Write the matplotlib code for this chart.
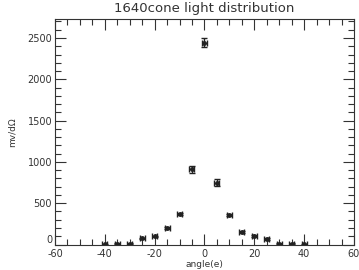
import matplotlib
matplotlib.use("Agg")
import matplotlib.pyplot as plt
from matplotlib.ticker import MultipleLocator, FuncFormatter

# angle (deg) vs signal
angles = [-40, -35, -30, -25, -20, -15, -10, -5, 0, 5, 10, 15, 20, 25, 30, 35, 40]
values = [4, 10, 12, 75, 97, 196, 370, 910, 2445, 748, 358, 148, 101, 66, 12, 8, 3]
errors = [6, 6, 6, 8, 10, 12, 15, 45, 50, 45, 15, 12, 10, 8, 6, 6, 6]
xerrs = [1] * len(angles)

plt.rcParams['axes.unicode_minus'] = False


def main():
    fig = plt.figure(figsize=(3.59, 2.70), dpi=100)
    ax = fig.add_axes([0.153, 0.0944, 0.833, 0.8352])

    ax.errorbar(angles, values, yerr=errors, xerr=xerrs, fmt='o', color='#222222',
                markersize=2.5, elinewidth=1.0, capsize=2.5, capthick=1.0)

    ax.set_xlim(-60, 60)
    ax.set_ylim(0, 2730)
    ax.xaxis.set_major_locator(MultipleLocator(20))
    ax.xaxis.set_minor_locator(MultipleLocator(5))
    ax.yaxis.set_major_locator(MultipleLocator(500))
    ax.yaxis.set_minor_locator(MultipleLocator(100))
    # the "0" on the y axis is drawn by hand, a bit higher, so it clears "-60"
    ax.yaxis.set_major_formatter(FuncFormatter(lambda v, p: "" if v == 0 else "%d" % v))
    ax.tick_params(which='both', direction='in', top=True, right=True,
                   labelsize=7, colors='#333333', pad=2)
    ax.tick_params(axis='x', pad=3)
    ax.tick_params(which='major', length=8, width=0.8)
    ax.tick_params(which='minor', length=4, width=0.8)
    for s in ax.spines.values():
        s.set_linewidth(0.8)
        s.set_color('#333333')

    ax.annotate("0", xy=(0, 0), xycoords=('axes fraction', 'data'),
                xytext=(-2, -0.5), textcoords='offset points',
                ha='right', va='bottom', fontsize=7, color='#333333')

    ax.set_title("1640cone light distribution", fontsize=9.5, color='#333333', pad=5)
    ax.set_xlabel("angle(e)", fontsize=6.5, color='#333333', labelpad=1)
    ax.set_ylabel("mv/d\u03a9", fontsize=6.5, color='#333333', labelpad=8)

    fig.savefig("out.png", dpi=100)


if __name__ == "__main__":
    main()
